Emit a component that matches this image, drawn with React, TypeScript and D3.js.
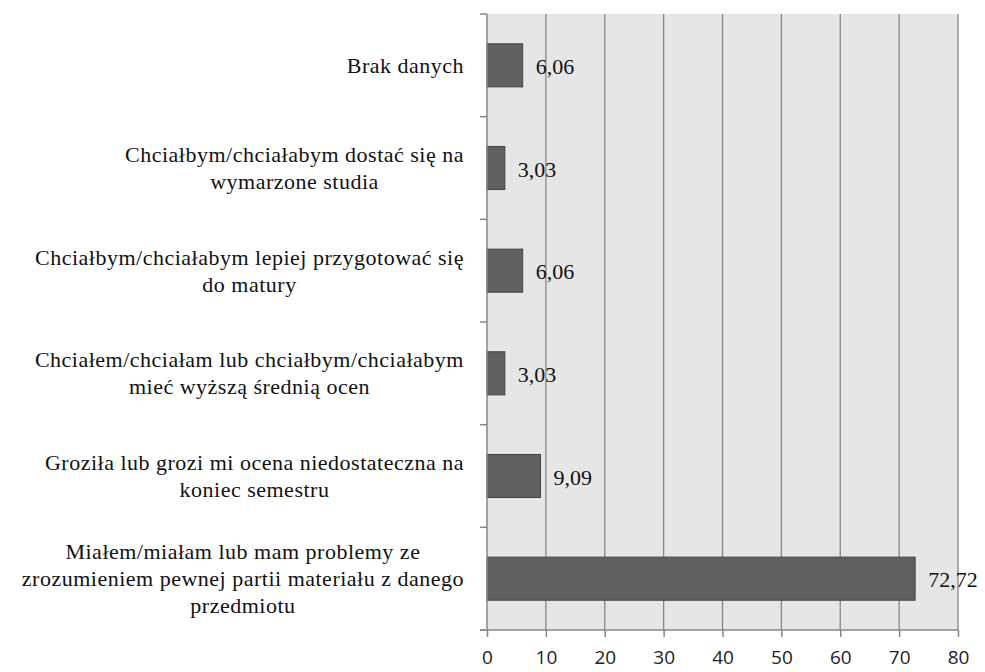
import React, { useEffect, useRef } from 'react';
import * as d3 from 'd3';

// Categories (top to bottom), split into lines as in the chart
const categoryLines: string[][] = [
  ['Brak danych'],
  ['Chciałbym/chciałabym dostać się na', 'wymarzone studia'],
  ['Chciałbym/chciałabym lepiej przygotować się', 'do matury'],
  ['Chciałem/chciałam lub chciałbym/chciałabym', 'mieć wyższą średnią ocen'],
  ['Groziła lub grozi mi ocena niedostateczna na', 'koniec semestru'],
  ['Miałem/miałam lub mam problemy ze', 'zrozumieniem pewnej partii materiału z danego', 'przedmiotu'],
];
const values = [6.06, 3.03, 6.06, 3.03, 9.09, 72.72];
const xTicks = [0, 10, 20, 30, 40, 50, 60, 70, 80];

const App: React.FC = () => {
  const chartRef = useRef<SVGSVGElement>(null);

  useEffect(() => {
    if (!chartRef.current) return;
    const svg = d3.select(chartRef.current);
    svg.selectAll('*').remove();

    const W = 985;
    const H = 672;
    const plot = { left: 487, right: 958, top: 14, bottom: 630 };
    const cats = categoryLines.map(l => l.join(' '));

    const x = d3.scaleLinear().domain([0, 80]).range([plot.left, plot.right]);
    const y = d3.scaleBand<string>()
      .domain(cats)
      .range([plot.top, plot.bottom])
      .paddingInner(0.58)
      .paddingOuter(0.29);

    svg.attr('width', W).attr('height', H);

    // Plot background
    svg.append('rect')
      .attr('x', plot.left)
      .attr('y', plot.top)
      .attr('width', plot.right - plot.left)
      .attr('height', plot.bottom - plot.top)
      .attr('fill', '#e6e6e6');

    // Vertical gridlines
    svg.selectAll('.grid')
      .data(xTicks.slice(1))
      .enter()
      .append('line')
        .attr('x1', d => x(d))
        .attr('x2', d => x(d))
        .attr('y1', plot.top)
        .attr('y2', plot.bottom)
        .attr('stroke', '#878787')
        .attr('stroke-width', 1.3);

    // Bars
    svg.selectAll('.bar')
      .data(values)
      .enter()
      .append('rect')
        .attr('x', x(0))
        .attr('y', (_, i) => y(cats[i]) as number)
        .attr('width', d => x(d) - x(0))
        .attr('height', y.bandwidth())
        .attr('fill', '#606060')
        .attr('stroke', '#444')
        .attr('stroke-width', 1);

    // Value labels
    const fmt = d3.format('.2f');
    svg.selectAll('.val')
      .data(values)
      .enter()
      .append('text')
        .attr('x', d => x(d) + 13)
        .attr('y', (_, i) => (y(cats[i]) as number) + y.bandwidth() / 2 + 1)
        .attr('dominant-baseline', 'central')
        .attr('font-family', '"Liberation Serif", "Times New Roman", serif')
        .attr('font-size', '22px')
        .attr('fill', '#111')
        .text(d => fmt(d).replace('.', ','));

    // Left axis line and category ticks
    svg.append('line')
      .attr('x1', plot.left)
      .attr('x2', plot.left)
      .attr('y1', plot.top)
      .attr('y2', plot.bottom)
      .attr('stroke', '#878787')
      .attr('stroke-width', 1.5);

    const step = y.step();
    svg.selectAll('.ytick')
      .data(d3.range(cats.length + 1))
      .enter()
      .append('line')
        .attr('x1', plot.left - 7)
        .attr('x2', plot.left)
        .attr('y1', d => plot.top + d * step)
        .attr('y2', d => plot.top + d * step)
        .attr('stroke', '#878787')
        .attr('stroke-width', 1.5);

    // Bottom axis
    const xAxis = svg.append('g')
      .attr('transform', `translate(0,${plot.bottom})`)
      .call(d3.axisBottom(x).tickValues(xTicks).tickSize(7).tickPadding(14).tickSizeOuter(0));
    xAxis.select('.domain')
      .attr('d', `M${plot.left - 7},0H${plot.right}`)
      .attr('stroke', '#878787')
      .attr('stroke-width', 1.5);
    xAxis.selectAll('.tick line')
      .attr('stroke', '#878787')
      .attr('stroke-width', 1.5);
    xAxis.selectAll('.tick text')
      .attr('font-family', '"Open Sans", "Liberation Sans", sans-serif')
      .attr('font-size', '19px')
      .attr('fill', '#222');

    // Category labels: lines centered within a block right-aligned to the axis
    const labelRight = 464;
    const lineH = 27;
    cats.forEach((c, i) => {
      const lines = categoryLines[i];
      const cy = (y(c) as number) + y.bandwidth() / 2;
      const g = svg.append('g');
      const texts = lines.map((t, j) =>
        g.append('text')
          .attr('y', cy + (j - (lines.length - 1) / 2) * lineH)
          .attr('dominant-baseline', 'central')
          .attr('text-anchor', 'middle')
          .attr('font-family', '"Liberation Serif", "Times New Roman", serif')
          .attr('font-size', '22px')
          .attr('letter-spacing', '0.5px')
          .attr('fill', '#111')
          .text(t)
      );
      const maxW = d3.max(texts, t => (t.node() as SVGTextElement).getComputedTextLength()) || 0;
      texts.forEach(t => t.attr('x', labelRight - maxW / 2));
    });
  }, []);

  return (
    <svg
      ref={chartRef}
      style={{ position: 'absolute', left: 0, top: 0, display: 'block', background: '#fff' }}
    />
  );
};

export default App;
